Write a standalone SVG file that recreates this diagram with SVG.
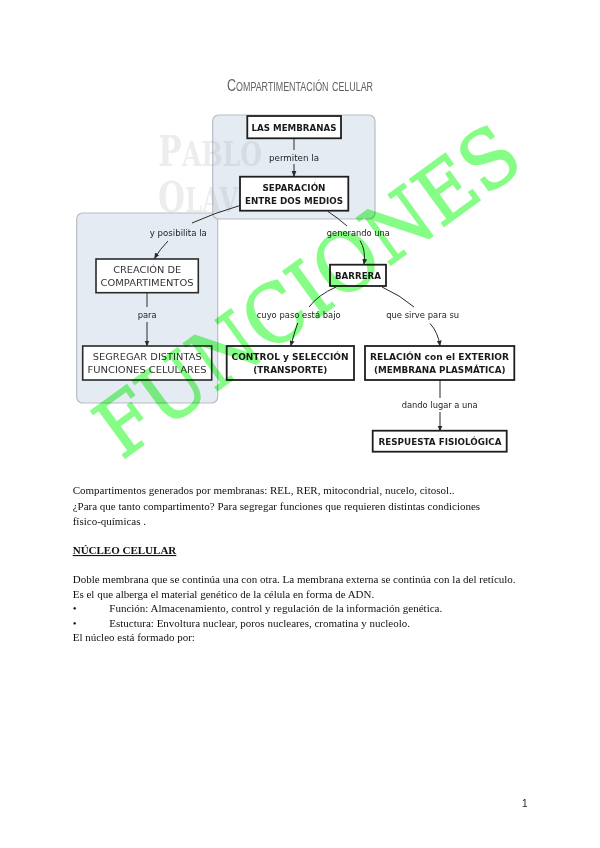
<svg xmlns="http://www.w3.org/2000/svg" width="600" height="848" viewBox="0 0 600 848">
<defs>
<style>
.panel{fill:#e5ebf3;stroke:#b9bdc4;stroke-width:1.2}
.box{fill:#fff;stroke:#1e1e1e;stroke-width:1.8}
.boxl{fill:#fff;stroke:#2a2a2a;stroke-width:1.6}
.nt{font-family:"DejaVu Sans",sans-serif;font-size:9.5px;fill:#1a1a1a;text-anchor:middle;font-weight:bold}
.ntl{font-family:"DejaVu Sans",sans-serif;font-size:9.5px;fill:#333;text-anchor:middle}
.lb{font-family:"DejaVu Sans",sans-serif;font-size:8px;fill:#222;text-anchor:middle}
.cn{fill:none;stroke:#2a2a2a;stroke-width:1}
.body{font-family:"Liberation Serif",serif;font-size:11px;fill:#111}
.wm{font-family:"DejaVu Serif",serif;font-weight:bold;fill:#999;opacity:0.17}
</style>
<marker id="ah" viewBox="0 0 10 10" refX="9" refY="5" markerWidth="6" markerHeight="6" orient="auto" markerUnits="userSpaceOnUse">
<path d="M0,1 L10,5 L0,9 z" fill="#2a2a2a"/>
</marker>
</defs>
<rect width="600" height="848" fill="#fff"/>

<text x="300" y="91" font-family="Liberation Sans, sans-serif" font-size="17" font-variant="small-caps" fill="#626262" text-anchor="middle" textLength="146" lengthAdjust="spacingAndGlyphs">Compartimentación celular</text>

<g id="panels">
<rect class="panel" x="76.7" y="213" width="141" height="190" rx="6"/>
<rect class="panel" x="212.7" y="115" width="162.3" height="104" rx="6"/>
</g>

<g id="watermark">
<text class="wm" x="158" y="166" textLength="104" lengthAdjust="spacingAndGlyphs"><tspan font-size="42">P</tspan><tspan font-size="33">ABLO</tspan></text>
<text class="wm" x="158" y="212" textLength="80" lengthAdjust="spacingAndGlyphs"><tspan font-size="42">O</tspan><tspan font-size="33">LAV</tspan></text>
</g>

<g id="connectors">
<line class="cn" x1="294" y1="138.5" x2="294" y2="150"/>
<line class="cn" x1="294" y1="164" x2="294" y2="176.5" marker-end="url(#ah)"/>
<path class="cn" d="M240,205.5 Q214,213 192,223"/>
<path class="cn" d="M168,241 Q160,249 154.5,258.5" marker-end="url(#ah)"/>
<path class="cn" d="M328,211.5 Q338,218 347,226"/>
<path class="cn" d="M360,240.5 Q366,250 364,264.5" marker-end="url(#ah)"/>
<line class="cn" x1="147" y1="293" x2="147" y2="307"/>
<line class="cn" x1="147" y1="322" x2="147" y2="346" marker-end="url(#ah)"/>
<path class="cn" d="M336,287 Q318,295 309,307"/>
<path class="cn" d="M297.7,323 Q294,334 290.7,346" marker-end="url(#ah)"/>
<path class="cn" d="M382,287 Q400,295 414,307"/>
<path class="cn" d="M430,323.5 Q438,332 440,346" marker-end="url(#ah)"/>
<line class="cn" x1="440" y1="380" x2="440" y2="398"/>
<line class="cn" x1="440" y1="412" x2="440" y2="431" marker-end="url(#ah)"/>
<text class="lb" x="294" y="160.5" textLength="50" lengthAdjust="spacingAndGlyphs">permiten la</text>
<text class="lb" x="178.3" y="236" textLength="57" lengthAdjust="spacingAndGlyphs">y posibilita la</text>
<text class="lb" x="358.3" y="236" textLength="63" lengthAdjust="spacingAndGlyphs">generando una</text>
<text class="lb" x="147.2" y="318" textLength="19" lengthAdjust="spacingAndGlyphs">para</text>
<text class="lb" x="298.7" y="318" textLength="84" lengthAdjust="spacingAndGlyphs">cuyo paso está bajo</text>
<text class="lb" x="422.7" y="318" textLength="73" lengthAdjust="spacingAndGlyphs">que sirve para su</text>
<text class="lb" x="439.7" y="408" textLength="76" lengthAdjust="spacingAndGlyphs">dando lugar a una</text>
</g>

<g id="n-membranas">
<rect class="box" x="247.3" y="116" width="93.7" height="22.3"/>
<text class="nt" x="294" y="131" textLength="85" lengthAdjust="spacingAndGlyphs">LAS MEMBRANAS</text>
</g>
<g id="n-separacion">
<rect class="box" x="240" y="176.7" width="108.3" height="34"/>
<text class="nt" x="294" y="190.8" textLength="63" lengthAdjust="spacingAndGlyphs">SEPARACIÓN</text>
<text class="nt" x="294" y="203.5" textLength="98" lengthAdjust="spacingAndGlyphs">ENTRE DOS MEDIOS</text>
</g>
<g id="n-creacion">
<rect class="boxl" x="96" y="259" width="102.3" height="33.7"/>
<text class="ntl" x="147.2" y="272.8" textLength="68" lengthAdjust="spacingAndGlyphs">CREACIÓN DE</text>
<text class="ntl" x="147" y="285.5" textLength="93" lengthAdjust="spacingAndGlyphs">COMPARTIMENTOS</text>
</g>
<g id="n-segregar">
<rect class="boxl" x="82.7" y="346" width="129" height="34"/>
<text class="ntl" x="147.2" y="360.2" textLength="109" lengthAdjust="spacingAndGlyphs">SEGREGAR DISTINTAS</text>
<text class="ntl" x="147" y="372.8" textLength="119" lengthAdjust="spacingAndGlyphs">FUNCIONES CELULARES</text>
</g>
<g id="n-barrera">
<rect class="box" x="330" y="264.7" width="56" height="21.3"/>
<text class="nt" x="358" y="279" textLength="46" lengthAdjust="spacingAndGlyphs">BARRERA</text>
</g>
<g id="n-control">
<rect class="box" x="226.7" y="346" width="127.3" height="34"/>
<text class="nt" x="290" y="360.2" textLength="117" lengthAdjust="spacingAndGlyphs">CONTROL y SELECCIÓN</text>
<text class="nt" x="290.3" y="372.8" textLength="74" lengthAdjust="spacingAndGlyphs">(TRANSPORTE)</text>
</g>
<g id="n-relacion">
<rect class="box" x="365" y="346" width="149.3" height="34"/>
<text class="nt" x="439.5" y="360.2" textLength="139" lengthAdjust="spacingAndGlyphs">RELACIÓN con el EXTERIOR</text>
<text class="nt" x="439.8" y="372.8" textLength="131.7" lengthAdjust="spacingAndGlyphs">(MEMBRANA PLASMÁTICA)</text>
</g>
<g id="n-respuesta">
<rect class="box" x="372.7" y="430.7" width="134" height="21"/>
<text class="nt" x="440" y="444.5" textLength="123" lengthAdjust="spacingAndGlyphs">RESPUESTA FISIOLÓGICA</text>
</g>

<g id="body">
<text class="body" x="72.7" y="494">Compartimentos generados por membranas: REL, RER, mitocondrial, nucelo, citosol..</text>
<text class="body" x="72.7" y="509.5">¿Para que tanto compartimento? Para segregar funciones que requieren distintas condiciones</text>
<text class="body" x="72.7" y="525">físico-químicas .</text>
<text class="body" x="72.7" y="554" font-weight="bold" text-decoration="underline">NÚCLEO CELULAR</text>
<text class="body" x="72.7" y="583">Doble membrana que se continúa una con otra. La membrana externa se continúa con la del retículo.</text>
<text class="body" x="72.7" y="597.5">Es el que alberga el material genético de la célula en forma de ADN.</text>
<text class="body" x="72.7" y="612">•</text>
<text class="body" x="109.3" y="612">Función: Almacenamiento, control y regulación de la información genética.</text>
<text class="body" x="72.7" y="626.5">•</text>
<text class="body" x="109.3" y="626.5">Estuctura: Envoltura nuclear, poros nucleares, cromatina y nucleolo.</text>
<text class="body" x="72.7" y="641">El núcleo está formado por:</text>
<text x="522" y="807" font-family="Liberation Sans, sans-serif" font-size="10" fill="#222">1</text>
</g>

<g id="stamp" style="mix-blend-mode:multiply">
<text transform="translate(307,290) rotate(-36)" x="0" y="29" font-family="DejaVu Serif, serif" font-size="80" fill="#86fd86" stroke="#86fd86" stroke-width="1.5" text-anchor="middle" textLength="500" lengthAdjust="spacingAndGlyphs">FUNCIONES</text>
</g>
</svg>
